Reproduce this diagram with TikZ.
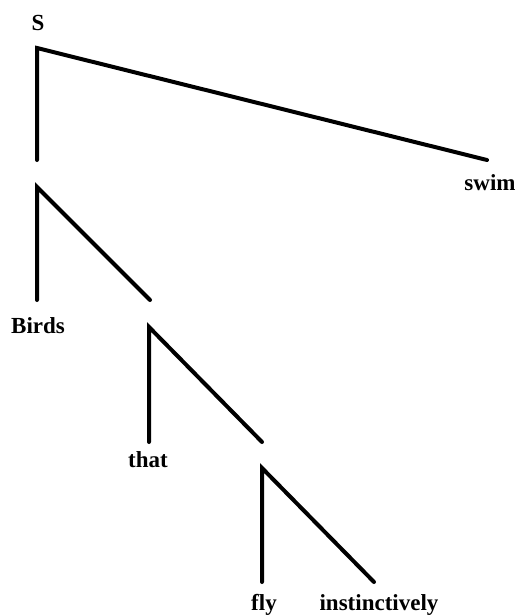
\documentclass[tikz,border=0pt]{standalone}
\usepackage{fontspec}
\setmainfont{Liberation Serif}
\begin{document}
\begin{tikzpicture}[x=1pt,y=-1pt,
  br/.style={line width=4pt,line cap=round,line join=miter},
  lab/.style={font=\fontsize{23}{26}\selectfont\bfseries,inner sep=0pt}]
\useasboundingbox (0,0) rectangle (516,615);
\node[lab] (S) at (38,23) {S};
\coordinate (v1) at (37,48);
\coordinate (v1l) at (37,160);
\coordinate (v1r) at (487,160);
\node[lab] (swim) at (490,183) {swim};
\draw[br] (v1l) -- (v1) -- (v1r);
\coordinate (v2) at (37,187);
\coordinate (v2l) at (37,300);
\coordinate (v2r) at (150,300);
\node[lab] (birds) at (38,326) {Birds};
\draw[br] (v2l) -- (v2) -- (v2r);
\coordinate (v3) at (149,327);
\coordinate (v3l) at (149,442);
\coordinate (v3r) at (262,442);
\node[lab] (that) at (148,460) {that};
\draw[br] (v3l) -- (v3) -- (v3r);
\coordinate (v4) at (262,468);
\coordinate (v4l) at (262,582);
\coordinate (v4r) at (374,582);
\node[lab,anchor=base] (fly) at (264,610) {fly};
\node[lab,anchor=base] (inst) at (379,610) {instinctively};
\draw[br] (v4l) -- (v4) -- (v4r);
\end{tikzpicture}
\end{document}
